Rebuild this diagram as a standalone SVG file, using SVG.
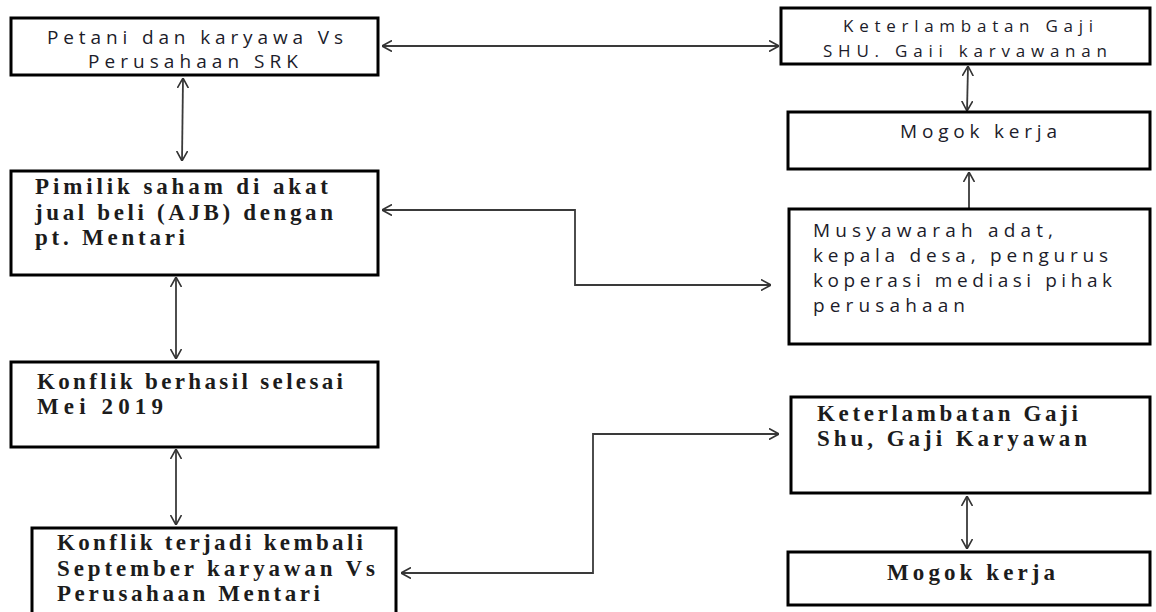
<svg xmlns="http://www.w3.org/2000/svg" width="1156" height="612" viewBox="0 0 1156 612">
<defs>
<marker id="arr" viewBox="0 0 10 12" refX="10" refY="6" markerWidth="10" markerHeight="12" markerUnits="userSpaceOnUse" orient="auto-start-reverse">
<path d="M0,0.5 L10,6 L0,11.5" fill="none" stroke="#333" stroke-width="1.6"/>
</marker>
<style>
.box{fill:#fff;stroke:#000;stroke-width:3}
.con{fill:none;stroke:#3a3a3a;stroke-width:1.8}
.sans{font-family:"Open Sans","Liberation Sans",sans-serif;font-size:19px;fill:#1c1c2a}
.sm{font-size:17px}
.serif{font-family:"Liberation Serif","Times New Roman",serif;font-size:23px;font-weight:bold;fill:#1c1c1c}
</style>
</defs>
<rect width="1156" height="612" fill="#fff"/>
<g id="connectors">
<path class="con" d="M382,46 L779,46" marker-start="url(#arr)" marker-end="url(#arr)"/>
<path class="con" d="M183,78 L182,161" marker-start="url(#arr)" marker-end="url(#arr)"/>
<path class="con" d="M968,66 L967,111" marker-start="url(#arr)" marker-end="url(#arr)"/>
<path class="con" d="M969,208 L969,172" marker-end="url(#arr)"/>
<path class="con" d="M382,210 L575,210 L575,285 L771,285" marker-start="url(#arr)" marker-end="url(#arr)"/>
<path class="con" d="M176,277 L176,359" marker-start="url(#arr)" marker-end="url(#arr)"/>
<path class="con" d="M176,449 L176,525" marker-start="url(#arr)" marker-end="url(#arr)"/>
<path class="con" d="M401,573 L593,573 L593,434 L779,434" marker-start="url(#arr)" marker-end="url(#arr)"/>
<path class="con" d="M967,496 L967,549" marker-start="url(#arr)" marker-end="url(#arr)"/>
</g>
<g id="n1">
<rect class="box" x="11" y="18" width="367" height="57"/>
<text class="sans" x="47" y="44" textLength="296" lengthAdjust="spacing">Petani dan karyawa Vs</text>
<text class="sans" x="88" y="68" textLength="210" lengthAdjust="spacing">Perusahaan SRK</text>
</g>
<g id="n2">
<rect class="box" x="781" y="8" width="369" height="56"/>
<text class="sans sm" x="843" y="32" textLength="250" lengthAdjust="spacing">Keterlambatan Gaji</text>
<text class="sans sm" x="823" y="57" textLength="284" lengthAdjust="spacing">SHU. Gaii karvawanan</text>
</g>
<g id="n3">
<rect class="box" x="788" y="112" width="362" height="57"/>
<text class="sans" x="900" y="138" textLength="157" lengthAdjust="spacing">Mogok kerja</text>
</g>
<g id="n4">
<rect class="box" x="789" y="209" width="361" height="135"/>
<text class="sans" x="813" y="237" textLength="240" lengthAdjust="spacing">Musyawarah adat,</text>
<text class="sans" x="813" y="262" textLength="295" lengthAdjust="spacing">kepala desa, pengurus</text>
<text class="sans" x="813" y="287" textLength="299" lengthAdjust="spacing">koperasi mediasi pihak</text>
<text class="sans" x="813" y="312" textLength="152" lengthAdjust="spacing">perusahaan</text>
</g>
<g id="n5">
<rect class="box" x="11" y="171" width="367" height="104"/>
<text class="serif" x="35" y="194" textLength="293" lengthAdjust="spacing">Pimilik  saham di akat</text>
<text class="serif" x="35" y="220" textLength="298" lengthAdjust="spacing">jual beli (AJB) dengan</text>
<text class="serif" x="35" y="245" textLength="150" lengthAdjust="spacing">pt. Mentari</text>
</g>
<g id="n6">
<rect class="box" x="11" y="362" width="367" height="85"/>
<text class="serif" x="37" y="389" textLength="306" lengthAdjust="spacing">Konflik berhasil selesai</text>
<text class="serif" x="37" y="414" textLength="126" lengthAdjust="spacing">Mei 2019</text>
</g>
<g id="n7">
<rect class="box" x="32" y="528" width="364" height="90"/>
<text class="serif" x="57" y="550" textLength="306" lengthAdjust="spacing">Konflik terjadi kembali</text>
<text class="serif" x="57" y="576" textLength="318" lengthAdjust="spacing">September karyawan Vs</text>
<text class="serif" x="57" y="601" textLength="263" lengthAdjust="spacing">Perusahaan Mentari</text>
</g>
<g id="n8">
<rect class="box" x="791" y="397" width="359" height="96"/>
<text class="serif" x="817" y="421" textLength="261" lengthAdjust="spacing">Keterlambatan Gaji</text>
<text class="serif" x="817" y="446" textLength="270" lengthAdjust="spacing">Shu, Gaji Karyawan</text>
</g>
<g id="n9">
<rect class="box" x="788" y="552" width="362" height="53"/>
<text class="serif" x="887" y="580" textLength="168" lengthAdjust="spacing">Mogok kerja</text>
</g>
</svg>
